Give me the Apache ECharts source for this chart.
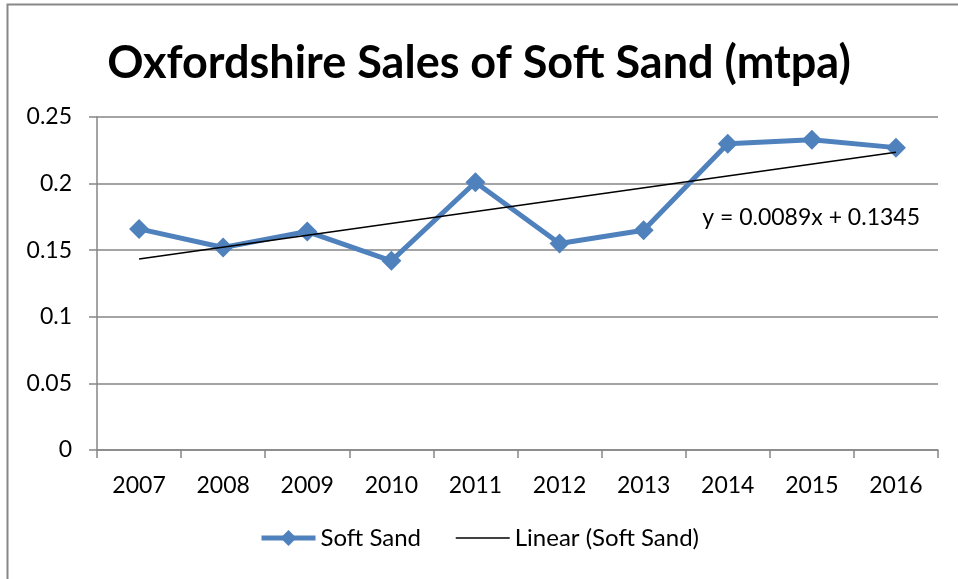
<!DOCTYPE html>
<html>
<head>
    <meta charset="utf-8">
    <title>Oxfordshire Sales of Soft Sand</title>
    <style>
        html, body { margin: 0; padding: 0; background: #fff; }
    </style>
</head>
<body>
<div id="main" style="width: 958px;height:579px;"></div>
<script src="https://cdn.jsdelivr.net/npm/echarts@6/dist/echarts.min.js"></script>
<script type="text/javascript">
    // data
    var years = ['2007', '2008', '2009', '2010', '2011', '2012', '2013', '2014', '2015', '2016'];
    var softSand = [0.166, 0.152, 0.164, 0.142, 0.201, 0.155, 0.165, 0.230, 0.233, 0.227];
    // trend line end points (first and last year)
    var trendStart = 0.1434;
    var trendEnd = 0.2235;
    var trendLabel = 'y = 0.0089x + 0.1345';
    var yTicks = [0, 0.05, 0.1, 0.15, 0.2, 0.25];

    var font = 'Lato, "Open Sans", sans-serif';
    var gridColor = '#868686';

    var myChart = echarts.init(document.getElementById('main'));
    myChart.setOption({
        backgroundColor: '#fff',
        animation: false,
        title: {
            text: 'Oxfordshire Sales of Soft Sand (mtpa)',
            left: 'center',
            top: 36,
            textStyle: { fontFamily: font, fontSize: 45, fontWeight: 'bold', color: '#000' }
        },
        graphic: [
            {
                type: 'rect',
                shape: { x: 7.5, y: 4.5, width: 1000, height: 600 },
                style: { fill: 'none', stroke: '#888', lineWidth: 2 },
                z: -1
            },
            {
                type: 'text',
                right: 38,
                top: 206,
                style: { text: trendLabel, font: '23px ' + font, fill: '#000' }
            }
        ],
        legend: {
            bottom: 24,
            left: 'center',
            itemWidth: 54,
            itemHeight: 20,
            itemGap: 34,
            textStyle: { fontFamily: font, fontSize: 24, color: '#000' },
            data: [
                { name: 'Soft Sand', lineStyle: { width: 5 } },
                { name: 'Linear (Soft Sand)', itemStyle: { opacity: 0 }, lineStyle: { width: 1.5 } }
            ]
        },
        grid: { left: 97, right: 20, top: 117, bottom: 129, containLabel: false },
        xAxis: {
            type: 'category',
            data: years,
            boundaryGap: true,
            axisLine: { lineStyle: { color: gridColor, width: 1.5 } },
            axisTick: { show: true, length: 8, interval: 0, lineStyle: { color: gridColor, width: 1.5 } },
            axisLabel: { margin: 24, fontFamily: font, fontSize: 23, color: '#000' }
        },
        yAxis: {
            type: 'value',
            min: yTicks[0],
            max: yTicks[yTicks.length - 1],
            interval: 0.05,
            axisLine: { show: true, lineStyle: { color: gridColor, width: 1.5 } },
            axisTick: { show: true, length: 8, lineStyle: { color: gridColor, width: 1.5 } },
            splitLine: { lineStyle: { color: gridColor, width: 1.5 } },
            axisLabel: { margin: 25, fontFamily: font, fontSize: 23, color: '#000' }
        },
        series: [
            {
                name: 'Soft Sand',
                type: 'line',
                data: softSand,
                symbol: 'diamond',
                symbolSize: 20,
                lineStyle: { color: '#4f81bd', width: 5 },
                itemStyle: { color: '#4f81bd' },
                z: 2
            },
            {
                name: 'Linear (Soft Sand)',
                type: 'line',
                data: [[years[0], trendStart], [years[years.length - 1], trendEnd]],
                symbol: 'none',
                lineStyle: { color: '#000', width: 1.5 },
                itemStyle: { color: '#000' },
                z: 3
            }
        ]
    });
</script>
</body>
</html>
